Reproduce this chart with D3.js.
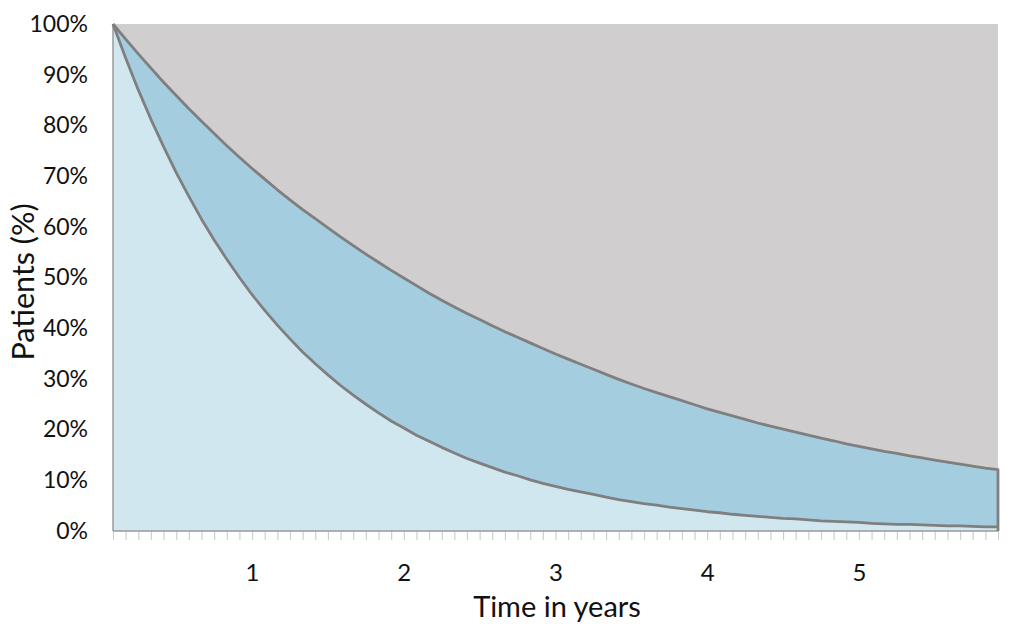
<html>
<head>
    <style>
        body { margin: 0; background: #fff; }
        text { font-family: Lato, "Open Sans", sans-serif; fill: #111; }
    </style>
    <script src="https://cdn.jsdelivr.net/npm/d3@7"></script>
</head>
<body>
    <svg id="container" width="1024" height="628">
        <g id="body"></g>
    </svg>
</body>
<script>
    // month index of each point (1..71), labels every 12 months
    let months = d3.range(1, 72)
    let yearLabels = ["1", "2", "3", "4", "5"]
    let yTicks = [0, 10, 20, 30, 40, 50, 60, 70, 80, 90, 100]

    // upper curve (top of mid blue band), % of patients
    let upper = [100, 97.0, 94.1, 91.3, 88.5, 85.9, 83.3, 80.8, 78.4, 76.0,
        73.7, 71.5, 69.4, 67.3, 65.3, 63.4, 61.6, 59.8, 58.0, 56.3,
        54.6, 53.0, 51.4, 49.9, 48.4, 46.9, 45.5, 44.2, 42.9, 41.7,
        40.5, 39.3, 38.2, 37.1, 36.0, 34.9, 33.9, 32.9, 31.9, 30.9,
        29.9, 29.0, 28.1, 27.3, 26.5, 25.7, 24.9, 24.1, 23.4, 22.7,
        22.0, 21.3, 20.7, 20.1, 19.5, 18.9, 18.3, 17.8, 17.2, 16.7,
        16.2, 15.7, 15.3, 14.8, 14.4, 14.0, 13.6, 13.2, 12.8, 12.4, 12.1]

    // lower curve (top of light blue band)
    let lower = [100, 93.3, 87.0, 81.2, 75.8, 70.7, 66.0, 61.5, 57.4, 53.6,
        50.0, 46.6, 43.5, 40.6, 37.9, 35.3, 33.0, 30.8, 28.7, 26.8,
        25.0, 23.3, 21.7, 20.3, 18.9, 17.7, 16.5, 15.4, 14.3, 13.4,
        12.5, 11.6, 10.9, 10.1, 9.4, 8.8, 8.2, 7.7, 7.2, 6.7,
        6.2, 5.8, 5.4, 5.1, 4.7, 4.4, 4.1, 3.8, 3.6, 3.3,
        3.1, 2.9, 2.7, 2.5, 2.4, 2.2, 2.0, 1.9, 1.8, 1.7,
        1.5, 1.4, 1.3, 1.3, 1.2, 1.1, 1.0, 1.0, 0.9, 0.8, 0.8]

    let body = d3.select("#body")

    let plotL = 113, plotR = 998, plotT = 24, plotB = 531

    let x = d3.scalePoint().domain(months).range([plotL, plotR])
    let y = d3.scaleLinear().domain([0, 100]).range([plotB, plotT])

    let rows = months.map((m, i) => ({m: m, lo: lower[i], up: upper[i]}))

    // gray band: upper -> 100%
    body.append("path")
        .datum(rows)
        .attr("fill", "#d0cecf")
        .attr("d", d3.area().x(d => x(d.m)).y0(d => y(d.up)).y1(y(100)))

    // mid blue band: lower -> upper
    body.append("path")
        .datum(rows)
        .attr("fill", "#a5cde0")
        .attr("d", d3.area().x(d => x(d.m)).y0(d => y(d.lo)).y1(d => y(d.up)))

    // light blue band: 0 -> lower
    body.append("path")
        .datum(rows)
        .attr("fill", "#d1e7f0")
        .attr("d", d3.area().x(d => x(d.m)).y0(y(0)).y1(d => y(d.lo)))

    // x axis with a tick on every month
    let xAxis = body.append("g")
        .attr("transform", `translate(0,${plotB})`)
        .call(d3.axisBottom(x)
            .tickSize(9)
            .tickPadding(24)
            .tickFormat(m => m % 12 === 0 ? yearLabels[m / 12 - 1] : ""))
    xAxis.select(".domain").remove()
    xAxis.selectAll("line").attr("stroke", "#cfcfcf").attr("stroke-width", 1.2)
    xAxis.selectAll("text").style("font-size", "24px").attr("fill", "#111")

    // y axis labels only
    let yAxis = body.append("g")
        .attr("transform", `translate(${plotL},0)`)
        .call(d3.axisLeft(y)
            .tickValues(yTicks)
            .tickSize(0)
            .tickPadding(25)
            .tickFormat(d => d + "%"))
    yAxis.select(".domain").remove()
    yAxis.selectAll("text").style("font-size", "23px").attr("fill", "#111")

    // axis lines
    body.append("line")
        .attr("x1", plotL).attr("x2", plotR)
        .attr("y1", y(0)).attr("y2", y(0))
        .attr("stroke", "#9a9a9a").attr("stroke-width", 1.5)
    body.append("line")
        .attr("x1", plotL).attr("x2", plotL)
        .attr("y1", y(0)).attr("y2", y(100))
        .attr("stroke", "#9a9a9a").attr("stroke-width", 1.5)

    // band borders
    let last = rows[rows.length - 1]
    body.append("path")
        .datum(rows)
        .attr("fill", "none")
        .attr("stroke", "#7f7f7f")
        .attr("stroke-width", 2.8)
        .attr("stroke-linejoin", "round")
        .attr("d", d3.line().x(d => x(d.m)).y(d => y(d.lo)))
    body.append("path")
        .datum(rows.concat([{m: last.m, up: 0}]))
        .attr("fill", "none")
        .attr("stroke", "#7f7f7f")
        .attr("stroke-width", 2.8)
        .attr("stroke-linejoin", "round")
        .attr("d", d3.line().x(d => x(d.m)).y(d => y(d.up)))

    // axis titles
    body.append("text")
        .attr("x", 557)
        .attr("y", 617)
        .attr("text-anchor", "middle")
        .style("font-size", "29px")
        .text("Time in years")

    body.append("text")
        .attr("transform", "translate(34,282) rotate(-90)")
        .attr("text-anchor", "middle")
        .style("font-size", "30.5px")
        .text("Patients (%)")
</script>
</html>
